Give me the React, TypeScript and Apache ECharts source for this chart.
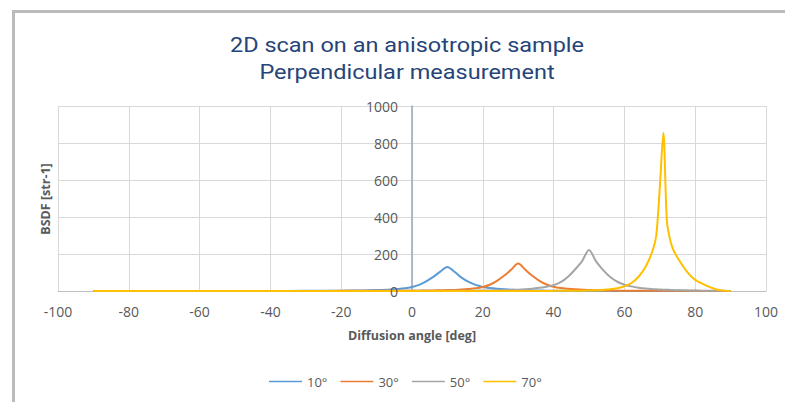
import React, { useEffect, useRef } from "react";
import * as echarts from "echarts";

const angles = [-90, -80, -70, -60, -50, -40, -30, -20, -14, -10, -6, -4, -2,
  0, 2, 4, 6, 8, 10, 12, 14, 16, 18, 20, 22, 24, 26, 28, 30, 32, 34, 36, 38, 40,
  42, 44, 46, 48, 50, 52, 54, 56, 58, 60, 62, 64, 66, 68, 69, 70, 71, 72, 73,
  74, 76, 78, 80, 82, 84, 86, 88, 90];

const seriesNames = ["10°", "30°", "50°", "70°"];

const bsdf10 = [0, 0, 0, 0, 0, 0, 1, 2, 3, 5, 8, 11, 15,
  22, 33, 52, 76, 105, 130, 104, 72, 49, 33, 22, 16, 12, 9, 7, 5, 4, 3, 3, 2, 2,
  2, 1, 1, 1, 1, 1, 1, 1, 0, 0, 0, 0, 0, 0, 0, 0, 0, 0, 0,
  0, 0, 0, 0, 0, 0, 0, 0, 0];

const bsdf30 = [0, 0, 0, 0, 0, 0, 0, 1, 1, 1, 1, 2, 2,
  2, 2, 3, 3, 4, 5, 6, 8, 11, 15, 22, 34, 55, 82, 115, 148, 115, 82, 55, 35, 23,
  16, 12, 9, 7, 5, 4, 3, 3, 2, 2, 2, 1, 1, 1, 1, 1, 1, 1, 1,
  1, 1, 1, 1, 0, 0, 0, 0, 0];

const bsdf50 = [0, 0, 0, 0, 0, 0, 0, 0, 0, 1, 1, 1, 1,
  1, 1, 1, 1, 1, 2, 2, 2, 2, 2, 3, 3, 4, 5, 6, 7, 9, 12, 17, 23, 32,
  48, 76, 115, 160, 222, 160, 113, 76, 50, 34, 25, 18, 13, 10, 9, 8, 7, 7, 6,
  5, 4, 3, 3, 2, 2, 1, 1, 0];

const bsdf70 = [0, 0, 0, 0, 0, 0, 0, 0, 0, 0, 0, 0, 0,
  0, 0, 0, 0, 0, 0, 0, 0, 0, 0, 0, 0, 0, 0, 0, 0, 0, 0, 0, 0, 1,
  1, 1, 2, 2, 3, 4, 6, 9, 15, 25, 43, 77, 131, 220, 300, 560, 855, 380, 270,
  215, 150, 97, 60, 40, 22, 8, 2, 0];

const seriesValues = [bsdf10, bsdf30, bsdf50, bsdf70];
const seriesColors = ["#5B9BD5", "#ED7D31", "#A5A5A5", "#FFC000"];

const titleLines = ["2D scan on an anisotropic sample", "Perpendicular measurement"];
const xAxisName = "Diffusion angle [deg]";
const yAxisName = "BSDF [str-1]";

export default function App() {
  const ref = useRef<HTMLDivElement>(null);
  useEffect(() => {
    if (!ref.current) return;
    const chart = echarts.init(ref.current, null, { renderer: "svg" });
    const labelFont = "'Open Sans', sans-serif";
    const gridLeft = 58;
    const gridRight = 19;
    const plotWidth = 785 - gridLeft - gridRight;
    const xMin = -100;
    const xMax = 100;
    const zeroOffset = (plotWidth * (0 - xMin)) / (xMax - xMin);
    const yBase = { type: "value", min: 0, max: 1000, interval: 200, position: "left", offset: -zeroOffset };
    chart.setOption({
      animation: false,
      backgroundColor: "#ffffff",
      legend: {
        left: 264,
        top: 370,
        icon: "rect",
        itemWidth: 33,
        itemHeight: 1.5,
        itemGap: 13,
        textStyle: { fontFamily: labelFont, fontSize: 13, color: "#595959" },
        data: seriesNames,
      },
      grid: { left: gridLeft, right: gridRight, top: 106, bottom: 111, containLabel: false },
      xAxis: {
        type: "value",
        min: xMin,
        max: xMax,
        interval: 20,
        name: xAxisName,
        nameLocation: "middle",
        nameGap: 38,
        nameTextStyle: { fontFamily: labelFont, fontSize: 12.5, fontWeight: "bold", color: "#595959" },
        axisLine: { show: true, onZero: false, lineStyle: { color: "#bfbfbf", width: 1 } },
        axisTick: { show: false },
        axisLabel: { fontFamily: labelFont, fontSize: 14, color: "#595959", margin: 13 },
        splitLine: { show: true, lineStyle: { color: "#d9d9d9", width: 1 } },
      },
      yAxis: [
        {
          ...yBase,
          axisLine: { show: true, onZero: false, lineStyle: { color: "#9aa6bd", width: 1.5 } },
          axisTick: { show: false },
          axisLabel: { show: false },
          splitLine: { show: true, lineStyle: { color: "#d9d9d9", width: 1 } },
        },
        {
          ...yBase,
          z: 10,
          axisLine: { show: false, onZero: false },
          axisTick: { show: false },
          splitLine: { show: false },
          axisLabel: {
            fontFamily: labelFont,
            fontSize: 14,
            color: "#595959",
            margin: 14,
            formatter: (v: number) => String(v),
          },
        },
      ],
      graphic: [
        { type: "rect", shape: { x: 12, y: 10, width: 773, height: 3 }, style: { fill: "#bbbbbb" }, silent: true },
        { type: "rect", shape: { x: 12, y: 10, width: 3, height: 392 }, style: { fill: "#bbbbbb" }, silent: true },
        {
          type: "text",
          x: 407,
          y: 44,
          scaleX: 1.12,
          style: {
            text: titleLines[0],
            fontFamily: "Roboto, sans-serif",
            fontSize: 21,
            fill: "#264478",
            textAlign: "center",
            textVerticalAlign: "middle",
          },
        },
        {
          type: "text",
          x: 407,
          y: 71,
          scaleX: 1.12,
          style: {
            text: titleLines[1],
            fontFamily: "Roboto, sans-serif",
            fontSize: 21,
            fill: "#264478",
            textAlign: "center",
            textVerticalAlign: "middle",
          },
        },
        {
          type: "text",
          x: 45,
          y: 199,
          rotation: Math.PI / 2,
          style: {
            text: yAxisName,
            fontFamily: labelFont,
            fontSize: 12.5,
            fontWeight: "bold",
            fill: "#595959",
            textAlign: "center",
            textVerticalAlign: "middle",
          },
        },
      ],
      series: seriesNames.map((name, i) => ({
        name,
        type: "line",
        yAxisIndex: 0,
        data: angles.map((a, j) => [a, seriesValues[i][j]]),
        symbol: "none",
        smooth: 0.3,
        lineStyle: { color: seriesColors[i], width: 2 },
        itemStyle: { color: seriesColors[i] },
      })),
    });
    return () => chart.dispose();
  }, []);
  return (
    <div
      ref={ref}
      style={{ position: "fixed", left: 0, top: 0, width: 785, height: 402, background: "#fff" }}
    />
  );
}
